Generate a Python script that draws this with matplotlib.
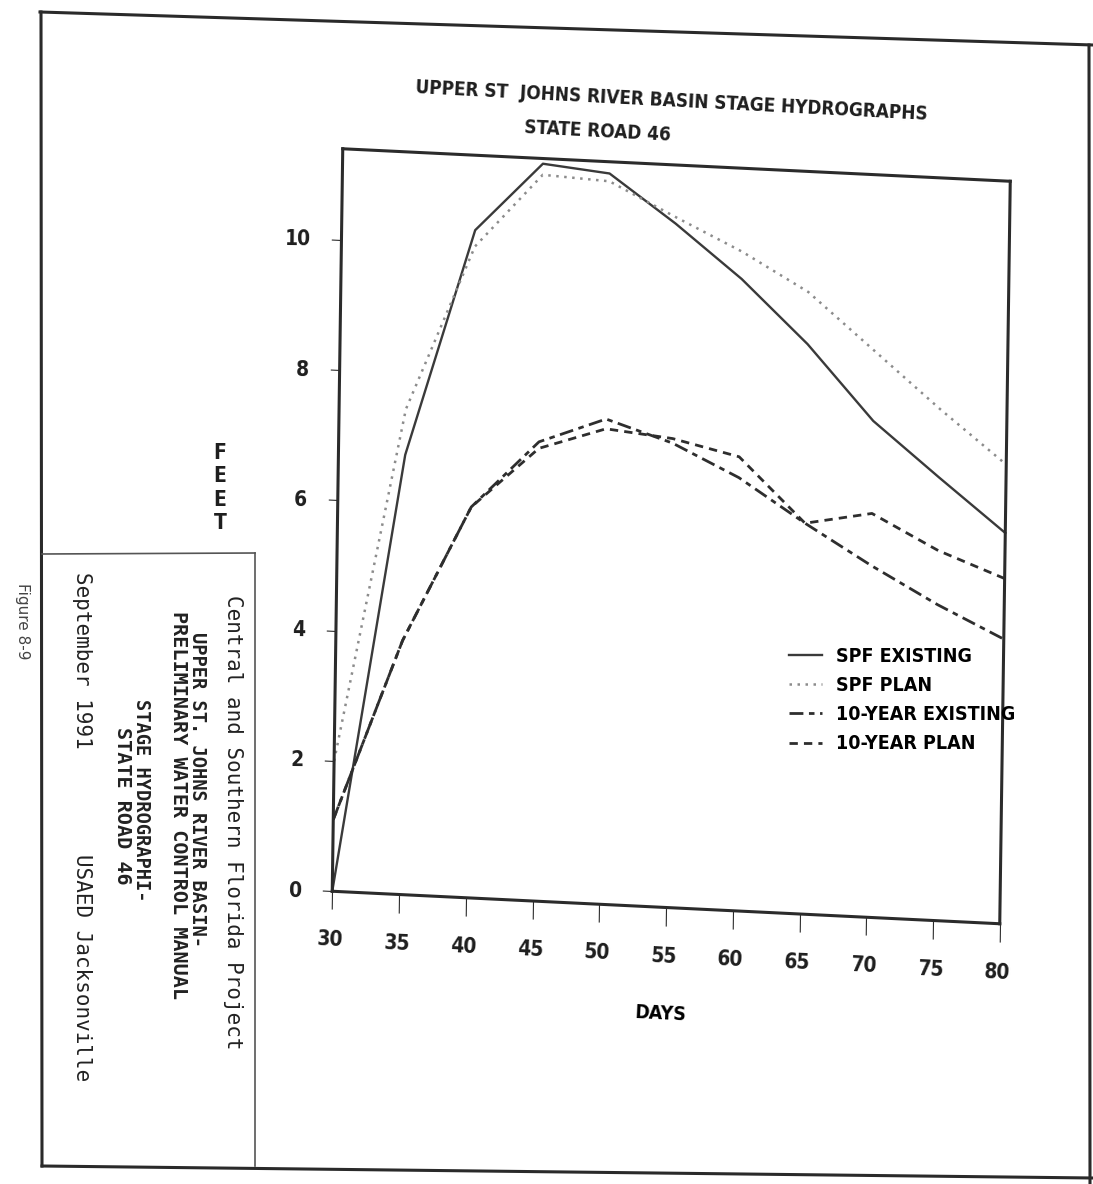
import os
import numpy as np
import matplotlib
matplotlib.use("Agg")
import matplotlib.pyplot as plt
from matplotlib.transforms import Affine2D
from matplotlib.lines import Line2D
from matplotlib import font_manager
from matplotlib.font_manager import FontProperties
import mpl_toolkits.axisartist.floating_axes as floating_axes
from mpl_toolkits.axisartist.grid_finder import FixedLocator, DictFormatter

# ---------------- data ----------------
days = [30, 35, 40, 45, 50, 55, 60, 65, 70, 75, 80]
spf_existing = [0.0, 6.75, 10.25, 11.32, 11.22, 10.5, 9.7, 8.75, 7.62, 6.8, 6.0]
spf_plan = [2.0, 7.45, 10.0, 11.15, 11.1, 10.6, 10.12, 9.55, 8.7, 7.85, 7.05]
ten_year_existing = [1.1, 3.9, 6.0, 7.05, 7.45, 7.13, 6.65, 6.0, 5.4, 4.85, 4.37]
ten_year_plan = [1.1, 3.9, 6.0, 6.95, 7.3, 7.2, 6.97, 6.0, 6.2, 5.68, 5.3]

x_ticks = [30, 35, 40, 45, 50, 55, 60, 65, 70, 75, 80]
y_ticks = [0, 2, 4, 6, 8, 10]
x_range = (30, 80)
y_range = (0, 11.4)

series_labels = ["SPF EXISTING", "SPF PLAN", "10-YEAR EXISTING", "10-YEAR PLAN"]
title_text = ["UPPER ST  JOHNS RIVER BASIN STAGE HYDROGRAPHS", "STATE ROAD 46"]
x_label = "DAYS"
y_label = "FEET"
block_lines = ["Central and Southern Florida Project",
               "UPPER ST. JOHNS RIVER BASIN-",
               "PRELIMINARY WATER CONTROL MANUAL",
               "STAGE HYDROGRAPHI-",
               "STATE ROAD 46",
               "September 1991",
               "USAED Jacksonville"]
figure_label = "Figure 8-9"

# ---------------- fonts: look for a condensed bold sans ----------------
def pick_condensed():
    files = [f.fname for f in font_manager.fontManager.ttflist]
    prefs = [("liberationsansnarrow-bold", ""), ("dejavusanscondensed-bold", ""),
             ("robotocondensed-bold", ""), ("notosans-condensedbold", ""),
             ("opensans-condensedbold", ""), ("opensanscondensed-bold", ""),
             ("condensed", "bold"), ("narrow", "bold"), ("condensed", ""), ("narrow", "")]
    for a, b in prefs:
        for fn in files:
            base = os.path.basename(fn).lower()
            if a in base and b in base and "italic" not in base and "oblique" not in base:
                return fn
    return None

cond_file = pick_condensed()

def narrow_fp(size):
    if cond_file:
        return FontProperties(fname=cond_file, size=size)
    return FontProperties(family="Roboto", weight="bold", size=size)

MONO = "DejaVu Sans Mono"

W, H = 1093, 1184
fig = plt.figure(figsize=(W / 100, H / 100), dpi=100)
fig.patch.set_facecolor("white")

def fx(px):
    return px / W

def fy(py):
    return 1 - py / H

# ---------------- skewed (scanned) axes ----------------
a_day = (13.35, -0.65)
a_ft = (0.921, 65.13)
origin = (332.25, 292.75)
tr = Affine2D(np.array([[a_day[0], a_ft[0], origin[0] - a_day[0] * x_range[0]],
                        [a_day[1], a_ft[1], origin[1] - a_day[1] * x_range[0]],
                        [0, 0, 1]]))

grid_helper = floating_axes.GridHelperCurveLinear(
    tr, extremes=(x_range[0], x_range[1], y_range[0], y_range[1]),
    grid_locator1=FixedLocator(x_ticks),
    grid_locator2=FixedLocator(y_ticks),
    tick_formatter1=DictFormatter({v: str(v) for v in x_ticks}),
    tick_formatter2=DictFormatter({v: str(v) for v in y_ticks}))

corners = tr.transform([[x_range[0], y_range[0]], [x_range[1], y_range[0]],
                        [x_range[0], y_range[1]], [x_range[1], y_range[1]]])
xmin, ymin = corners.min(axis=0)
xmax, ymax = corners.max(axis=0)
cx, cy = (xmin + xmax) / 2, (ymin + ymax) / 2
hw, hh = (xmax - xmin) / 2 * 1.02, (ymax - ymin) / 2 * 1.02
rect = [(cx - hw) / W, (cy - hh) / H, 2 * hw / W, 2 * hh / H]

ax = fig.add_axes(rect, axes_class=floating_axes.FloatingAxes, grid_helper=grid_helper)
ax.patch.set_facecolor("none")
aux = ax.get_aux_axes(tr)

ink = "#2b2b2b"
for name in ["left", "right", "top", "bottom"]:
    ax.axis[name].line.set_linewidth(2.2)
    ax.axis[name].line.set_color(ink)
for name in ["top", "right"]:
    ax.axis[name].major_ticks.set_visible(False)
    ax.axis[name].major_ticklabels.set_visible(False)
    ax.axis[name].label.set_visible(False)

for name, size, pad in [("bottom", 13, 15), ("left", 7, 15)]:
    axis = ax.axis[name]
    axis.major_ticks.set_tick_out(True)
    axis.major_ticks.set_ticksize(size)
    axis.major_ticks.set_color(ink)
    axis.major_ticks.set_linewidth(1.8)
    axis.major_ticklabels.set_fontproperties(narrow_fp(15))
    axis.major_ticklabels.set_color("#1e1e1e")
    axis.major_ticklabels.set_pad(pad)

ax.axis["bottom"].label.set_text(x_label)
ax.axis["bottom"].label.set_fontproperties(narrow_fp(14))
ax.axis["bottom"].label.set_pad(30)
ax.axis["left"].label.set_visible(False)

# ---------------- series ----------------
h1, = aux.plot(days, spf_existing, color="#3a3a3a", lw=1.7, ls="-")
h2, = aux.plot(days, spf_plan, color="#8c8c8c", lw=1.8, ls=(0, (1, 2.2)))
h3, = aux.plot(days, ten_year_existing, color="#2e2e2e", lw=2.0, ls=(0, (5, 2, 2, 2)))
h4, = aux.plot(days, ten_year_plan, color="#2e2e2e", lw=2.0, ls=(0, (3, 2.2)))

fig.legend([h1, h2, h3, h4], series_labels, loc="upper left",
           bbox_to_anchor=(fx(789), fy(647)), frameon=False,
           borderpad=0, borderaxespad=0, handlelength=1.7, handletextpad=0.7,
           labelspacing=0.52, prop=narrow_fp(14))

# ---------------- titles ----------------
for text, (px, py) in zip(title_text, [(672, 101), (597, 131)]):
    fig.text(fx(px), fy(py), text, rotation=-3.0, ha="center", va="center",
             rotation_mode="anchor", fontproperties=narrow_fp(13.6), color="#1e1e1e")
fig.text(fx(220), fy(488), "\n".join(y_label), ha="center", va="center",
         linespacing=1.2, fontproperties=narrow_fp(15), color="#1e1e1e")

# ---------------- page frame ----------------
frame_kw = dict(color="#2a2a2a", lw=2.2, transform=fig.transFigure)
fig.add_artist(Line2D([fx(40), fx(1093)], [fy(12), fy(45)], **frame_kw))
fig.add_artist(Line2D([fx(41), fx(42)], [fy(12), fy(1166)], **frame_kw))
fig.add_artist(Line2D([fx(42), fx(1093)], [fy(1166), fy(1178)], **frame_kw))
fig.add_artist(Line2D([fx(1089), fx(1090)], [fy(45), fy(1184)], **frame_kw))
thin_kw = dict(color="#555555", lw=1.2, transform=fig.transFigure)
fig.add_artist(Line2D([fx(42), fx(255)], [fy(554), fy(553)], **thin_kw))
fig.add_artist(Line2D([fx(255), fx(255)], [fy(553), fy(1166)], **thin_kw))

# ---------------- title block (rotated) ----------------
block_pos = [(233, 822, 15, "normal"), (197, 790, 13.5, "bold"), (178, 805, 14.5, "bold"),
             (141, 800, 13.5, "bold"), (122, 806, 14.5, "bold"), (82, 660, 15, "normal"),
             (82, 968, 15, "normal")]
for text, (px, py, size, weight) in zip(block_lines, block_pos):
    fig.text(fx(px), fy(py), text, rotation=-90, ha="center", va="center",
             fontsize=size, family=MONO, weight=weight, color="#222222")
fig.text(fx(22), fy(621), figure_label, rotation=-90, ha="center", va="center",
         fontsize=11, family="DejaVu Sans", color="#444444")

fig.savefig("out.png", dpi=100, facecolor="white")
